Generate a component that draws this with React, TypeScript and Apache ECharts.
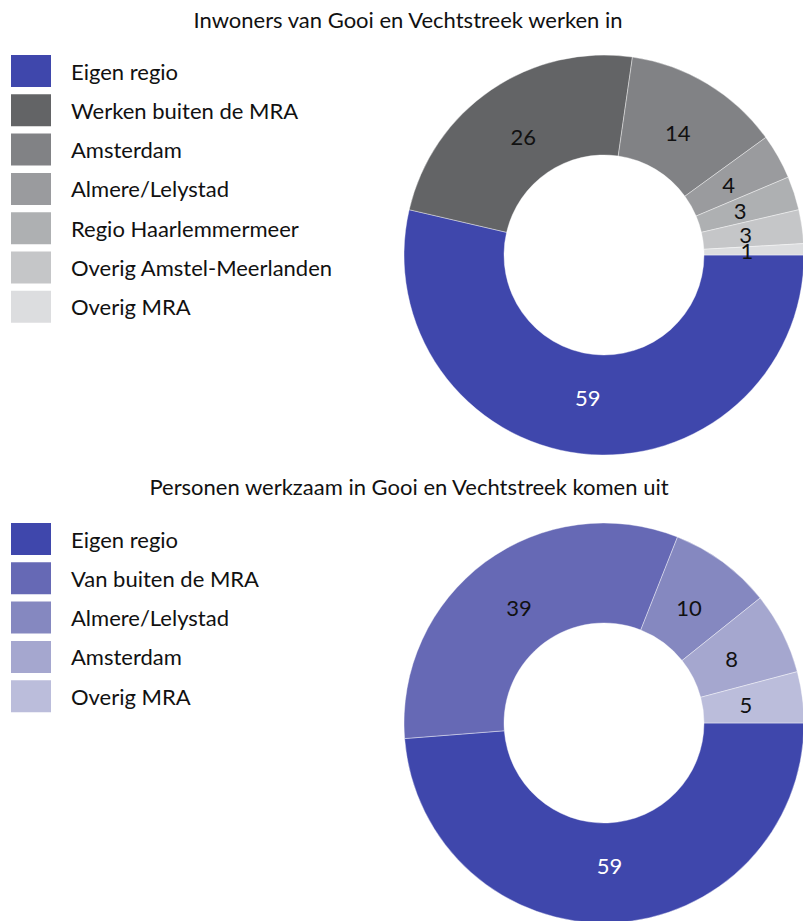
import React, { useEffect, useRef } from "react";
import * as echarts from "echarts";

const topTitle = "Inwoners van Gooi en Vechtstreek werken in";
const topCategories = [
  "Eigen regio",
  "Werken buiten de MRA",
  "Amsterdam",
  "Almere/Lelystad",
  "Regio Haarlemmermeer",
  "Overig Amstel-Meerlanden",
  "Overig MRA",
];
const topValues = [59, 26, 14, 4, 3, 3, 1];
const topColors = ["#3f47ac", "#636466", "#818285", "#9a9b9e", "#aeb0b2", "#c5c6c8", "#dcdddf"];

const bottomTitle = "Personen werkzaam in Gooi en Vechtstreek komen uit";
const bottomCategories = ["Eigen regio", "Van buiten de MRA", "Almere/Lelystad", "Amsterdam", "Overig MRA"];
const bottomValues = [59, 39, 10, 8, 5];
const bottomColors = ["#3f47ac", "#6669b5", "#8588c0", "#a5a7cf", "#bbbddb"];

const FONT = "Lato, 'Noto Sans', sans-serif";
const FS = 22;

function buildLegend(cats: string[], cols: string[], top: number) {
  return {
    orient: "vertical",
    left: 11,
    top,
    padding: 0,
    icon: "rect",
    itemWidth: 40,
    itemHeight: 32,
    itemGap: 7.3,
    selectedMode: false,
    textStyle: { fontSize: FS, color: "#111111", fontFamily: FONT, padding: [0, 0, 0, 15] },
    itemStyle: { borderWidth: 0 },
    data: cats.map((name, i) => ({ name, itemStyle: { color: cols[i], borderWidth: 0 } })),
  };
}

function pieSeries(cats: string[], vals: number[], cols: string[], cy: number) {
  return {
    type: "pie",
    center: [604, cy],
    radius: [100, 200],
    startAngle: 0,
    clockwise: true,
    avoidLabelOverlap: false,
    itemStyle: { borderColor: "#ffffff", borderWidth: 0.4 },
    label: { show: false },
    labelLine: { show: false },
    emphasis: { disabled: true },
    data: cats.map((name, i) => ({ name, value: vals[i], itemStyle: { color: cols[i] } })),
  };
}

// transparent twin ring used only to place the value labels at the ring's visual centre
function labelSeries(cats: string[], vals: number[], cy: number) {
  return {
    type: "pie",
    center: [604, cy],
    radius: [80, 200],
    startAngle: 0,
    clockwise: true,
    silent: true,
    avoidLabelOverlap: false,
    minShowLabelAngle: 0,
    itemStyle: { color: "rgba(0,0,0,0)", borderWidth: 0 },
    label: {
      show: true,
      position: "inside",
      formatter: "{c}",
      fontSize: FS,
      fontFamily: FONT,
      overflow: "none",
    },
    labelLayout: { hideOverlap: false },
    labelLine: { show: false },
    emphasis: { disabled: true },
    data: cats.map((name, i) => ({
      name,
      value: vals[i],
      label: { color: i === 0 ? "#ffffff" : "#111111" },
    })),
  };
}

export default function App() {
  const ref = useRef<HTMLDivElement>(null);
  useEffect(() => {
    document.body.style.margin = "0";
    const chart = echarts.init(ref.current!, null, { renderer: "svg" });
    chart.setOption({
      animation: false,
      backgroundColor: "#ffffff",
      title: [
        {
          text: topTitle,
          left: 408,
          top: 8,
          padding: 0,
          textAlign: "center",
          textStyle: { fontSize: FS, fontWeight: "normal", color: "#111111", fontFamily: FONT },
        },
        {
          text: bottomTitle,
          left: 409,
          top: 475,
          padding: 0,
          textAlign: "center",
          textStyle: { fontSize: FS, fontWeight: "normal", color: "#111111", fontFamily: FONT },
        },
      ],
      legend: [
        buildLegend(topCategories, topColors, 55),
        buildLegend(bottomCategories, bottomColors, 523),
      ],
      series: [
        pieSeries(topCategories, topValues, topColors, 255),
        pieSeries(bottomCategories, bottomValues, bottomColors, 723),
        labelSeries(topCategories, topValues, 255),
        labelSeries(bottomCategories, bottomValues, 723),
      ],
    });
    return () => chart.dispose();
  }, []);
  return <div ref={ref} style={{ position: "absolute", left: 0, top: 0, width: 803, height: 921 }} />;
}
